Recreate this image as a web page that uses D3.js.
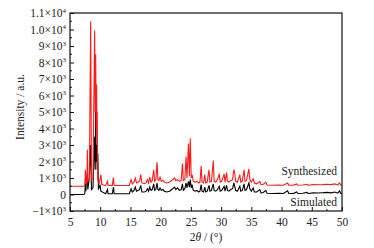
<!DOCTYPE html>
<html><head><meta charset="utf-8">
<script src="https://cdn.jsdelivr.net/npm/d3@7"></script>
<style>body{margin:0;background:#fff}svg{display:block}text{font-family:"Liberation Serif","DejaVu Serif",serif;fill:#222}</style>
</head><body><svg id="c" width="374" height="248"></svg>
<script>
// Tick values
const xTicks = [5,10,15,20,25,30,35,40,45,50];
const yTicks = [-1000,0,1000,2000,3000,4000,5000,6000,7000,8000,9000,10000,11000];
const yTickLabels = [["−1×10","3"],["0",""],["1×10","3"],["2×10","3"],["3×10","3"],["4×10","3"],["5×10","3"],["6×10","3"],["7×10","3"],["8×10","3"],["9×10","3"],["1.0×10","4"],["1.1×10","4"]];
const seriesNames = ["Synthesized","Simulated"];
// Synthesized pattern: [2θ, intensity]
const synthesized = [[5,500],[7.3,500],[7.45,560],[7.55,1500],[7.62,650],[7.8,700],[7.87,2730],[7.95,800],[8.2,900],[8.42,10500],[8.55,900],[8.8,1000],[9.08,9940],[9.17,5000],[9.25,8480],[9.33,4000],[9.4,6670],[9.45,3500],[9.5,5030],[9.6,900],[9.8,650],[10.13,1200],[10.25,600],[10.9,550],[11.2,800],[11.3,550],[12.0,550],[12.17,1030],[12.3,550],[14.8,550],[15.1,900],[15.3,650],[15.6,750],[15.8,1000],[16.0,700],[16.3,750],[16.5,800],[16.7,1200],[16.9,700],[17.3,650],[17.6,700],[17.8,900],[18.0,700],[18.2,1050],[18.4,750],[18.6,850],[18.85,1500],[19.0,800],[19.2,900],[19.4,1960],[19.55,900],[19.7,850],[19.9,1050],[20.1,800],[20.4,850],[20.6,750],[21.0,700],[21.5,750],[21.8,850],[22.0,900],[22.3,1000],[22.5,850],[22.8,900],[23.1,800],[23.4,850],[23.6,1880],[23.75,850],[24.0,900],[24.2,2300],[24.35,1000],[24.6,3090],[24.75,1100],[24.9,3390],[25.05,1000],[25.2,1200],[25.4,800],[25.7,750],[26.0,800],[26.3,700],[26.5,750],[26.7,1720],[26.85,750],[27.1,700],[27.3,1200],[27.45,700],[27.7,750],[28.0,1500],[28.15,750],[28.4,800],[28.7,2060],[28.85,800],[29.1,750],[29.4,900],[29.7,1250],[29.85,750],[30.1,800],[30.5,1250],[30.65,750],[30.9,1330],[31.05,800],[31.3,750],[31.6,850],[31.9,900],[32.1,1500],[32.25,1300],[32.4,800],[32.7,750],[33.1,1200],[33.25,750],[33.5,800],[33.8,1500],[33.95,800],[34.2,850],[34.6,1550],[34.75,900],[35.0,750],[35.3,950],[35.5,700],[35.9,650],[36.4,800],[36.6,600],[37.0,620],[37.4,750],[37.6,580],[38.5,560],[39.5,580],[40.3,560],[41.0,700],[41.2,560],[42.0,570],[42.5,640],[42.7,560],[43.5,580],[44.2,620],[44.4,560],[45.3,600],[46.0,590],[46.8,600],[47.5,620],[48.2,600],[48.8,640],[49.3,580],[49.6,700],[49.8,560],[50,560]];
// Simulated pattern: [2θ, intensity]
const simulated = [[5,0],[7.3,0],[7.45,80],[7.55,700],[7.62,200],[7.75,950],[7.87,1300],[7.95,300],[8.2,1000],[8.42,3000],[8.55,300],[8.8,400],[9.08,3500],[9.17,1500],[9.25,5600],[9.33,2000],[9.4,3000],[9.5,1500],[9.6,2500],[9.7,300],[9.97,600],[10.1,200],[10.9,50],[11.2,300],[11.3,50],[12.0,50],[12.2,450],[12.3,50],[14.8,50],[15.1,350],[15.3,150],[15.6,250],[15.8,450],[16.0,200],[16.3,250],[16.5,300],[16.7,550],[16.9,150],[17.3,150],[17.6,200],[17.8,350],[18.0,200],[18.2,450],[18.4,250],[18.6,300],[18.85,650],[19.0,250],[19.2,300],[19.4,700],[19.55,300],[19.7,250],[19.9,400],[20.1,250],[20.4,300],[20.6,200],[21.0,150],[21.5,200],[21.8,300],[22.0,350],[22.3,450],[22.5,300],[22.8,400],[23.1,250],[23.4,300],[23.6,650],[23.75,250],[24.0,350],[24.2,700],[24.35,400],[24.6,800],[24.75,450],[24.9,900],[25.05,400],[25.2,600],[25.4,250],[25.7,200],[26.0,250],[26.3,150],[26.5,200],[26.7,600],[26.85,200],[27.1,150],[27.3,450],[27.45,150],[27.7,200],[28.0,550],[28.15,200],[28.4,250],[28.7,650],[28.85,250],[29.1,200],[29.4,300],[29.7,500],[29.85,200],[30.1,250],[30.5,500],[30.65,200],[30.9,550],[31.05,250],[31.3,200],[31.6,300],[31.9,350],[32.1,700],[32.25,500],[32.4,250],[32.7,200],[33.1,500],[33.25,200],[33.5,250],[33.8,650],[33.95,250],[34.2,300],[34.6,700],[34.75,350],[35.0,200],[35.3,400],[35.5,150],[35.9,150],[36.4,300],[36.6,100],[37.0,120],[37.4,250],[37.6,80],[38.5,60],[39.5,80],[40.3,60],[41.0,220],[41.2,60],[42.0,70],[42.5,150],[42.7,60],[43.5,80],[44.2,130],[44.4,60],[45.3,100],[46.0,90],[46.8,110],[47.5,130],[48.2,100],[48.8,150],[49.3,80],[49.6,220],[49.8,60],[50,60]];

const svg = d3.select("#c");
const L = 70, R = 342, T = 13, B = 211;
const x = d3.scaleLinear().domain([5,50]).range([L,R]);
const y = d3.scaleLinear().domain([-1000,11000]).range([B,T]);
const line = d3.line().x(d=>x(d[0])).y(d=>y(d[1]));

svg.append("clipPath").attr("id","cp").append("rect").attr("x",L).attr("y",T).attr("width",R-L).attr("height",B-T);
const g = svg.append("g").attr("clip-path","url(#cp)");
g.append("path").datum(simulated).attr("d",line).attr("fill","none").attr("stroke","#000").attr("stroke-width",1.1);
g.append("path").datum(synthesized).attr("d",line).attr("fill","none").attr("stroke","#ff1a1a").attr("stroke-width",1.1);

// frame
svg.append("rect").attr("x",L).attr("y",T).attr("width",R-L).attr("height",B-T).attr("fill","none").attr("stroke","#111").attr("stroke-width",1.2);

// x axis ticks (inward)
const xa = svg.append("g").attr("transform",`translate(0,${B})`).call(d3.axisBottom(x).tickValues(xTicks).tickSizeInner(-4).tickSizeOuter(0).tickFormat(d3.format("d")));
xa.select(".domain").remove();
xa.selectAll("line").attr("stroke","#111");
xa.selectAll("text").attr("font-size",11.5).attr("dy",null).attr("y",15).attr("fill","#222").style("font-family","Liberation Serif");
const xMinor = d3.range(7.5,50,5);
svg.append("g").selectAll("line").data(xMinor).join("line").attr("x1",d=>x(d)).attr("x2",d=>x(d)).attr("y1",B).attr("y2",B-2).attr("stroke","#111");

// y axis
const ya = svg.append("g").attr("transform",`translate(${L},0)`).call(d3.axisLeft(y).tickValues(yTicks).tickSizeInner(-4).tickSizeOuter(0).tickFormat(""));
ya.select(".domain").remove();
ya.selectAll("line").attr("stroke","#111");
const yMinor = d3.range(-500,11000,1000);
svg.append("g").selectAll("line").data(yMinor).join("line").attr("x1",L).attr("x2",L+2).attr("y1",d=>y(d)).attr("y2",d=>y(d)).attr("stroke","#111");
const yl = svg.append("g").selectAll("text").data(yTicks.map((v,i)=>({v,l:yTickLabels[i]}))).join("text")
  .attr("x",L-4).attr("y",d=>y(d.v)+4).attr("text-anchor","end").attr("font-size",11.5);
yl.append("tspan").text(d=>d.l[0]);
yl.append("tspan").attr("dy",-4.5).attr("font-size",7).text(d=>d.l[1]);

// axis titles
svg.append("text").attr("transform","translate(24,107) rotate(-90)").attr("text-anchor","middle").attr("font-size",11.5).text("Intensity / a.u.");
const xt = svg.append("text").attr("x",206).attr("y",241).attr("text-anchor","middle").attr("font-size",11.5);
xt.append("tspan").text("2");
xt.append("tspan").attr("font-style","italic").text("θ");
xt.append("tspan").text(" / (°)");

// series labels
svg.append("text").attr("x",337).attr("y",175).attr("text-anchor","end").attr("font-size",11.5).text(seriesNames[0]);
svg.append("text").attr("x",337).attr("y",206).attr("text-anchor","end").attr("font-size",11.5).text(seriesNames[1]);
</script></body></html>
